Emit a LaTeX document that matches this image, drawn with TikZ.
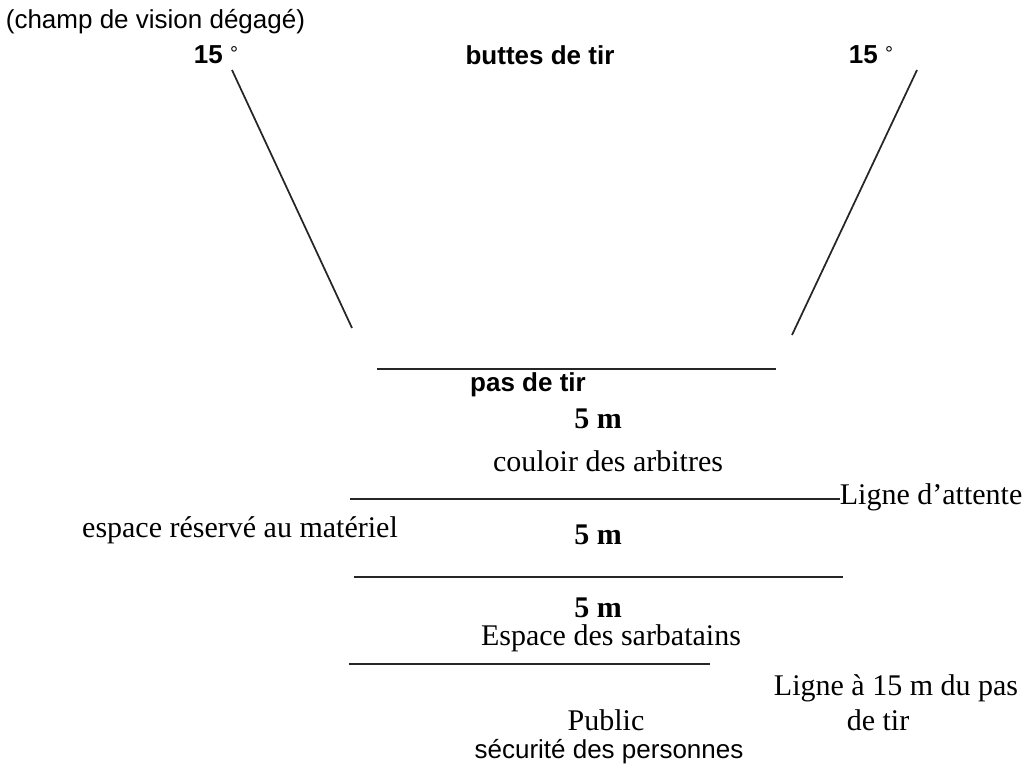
\documentclass[tikz,border=0pt]{standalone}
\usepackage{fontspec}
\setmainfont{Liberation Serif}
\setsansfont{Liberation Sans}
\begin{document}
\begin{tikzpicture}[x=0.75pt,y=-0.75pt,line width=1.3pt,
  sans/.style={font=\sffamily\fontsize{19.5}{22}\selectfont,inner sep=0pt},
  sansb/.style={font=\sffamily\bfseries\fontsize{19.5}{22}\selectfont,inner sep=0pt},
  serif/.style={font=\fontsize{22.5}{26}\selectfont,inner sep=0pt},
  serifb/.style={font=\bfseries\fontsize{22.5}{26}\selectfont,inner sep=0pt}]
\useasboundingbox (0,0) rectangle (1034,770);
% champ de vision
\draw[color=black!85] (232,70) -- (352,328);
\draw[color=black!85] (917,70) -- (792,335);
% lignes
\draw[color=black!85] (377,369) -- (776,369);
\draw[color=black!85] (350,499) -- (840,499);
\draw[color=black!85] (354,577) -- (843,577);
\draw[color=black!85] (349,664) -- (710,664);
%\draw (0,0) rectangle (1034,770);
\node (champ) at (5,22) [sans,right] {(champ de vision dégagé)};
\node (angleg) at (216,55) [sansb] {15 {\mdseries\fontsize{15}{16}\selectfont\raisebox{2.5pt}{°}}};
\node (buttes) at (540,55) [sansb] {buttes de tir};
\node (angled) at (871,55) [sansb] {15 {\mdseries\fontsize{15}{16}\selectfont\raisebox{2.5pt}{°}}};
\node (pas) at (528,385) [sansb] {pas de tir};
\node (dista) at (598,419) [serifb] {5 m};
\node (couloir) at (608,461) [serif] {couloir des arbitres};
\node (attente) at (839,497) [serif,right] {Ligne d’attente};
\node (materiel) at (240,530) [serif] {espace réservé au matériel};
\node (distb) at (598,535) [serifb] {5 m};
\node (distc) at (598,608) [serifb] {5 m};
\node (sarb) at (611,638) [serif] {Espace des sarbatains};
\node (ligne) at (896,688) [serif] {Ligne à 15 m du pas};
\node (detir) at (878,720) [serif] {de tir};
\node (public) at (606,720) [serif] {Public};
\node (secu) at (609,752) [sans] {sécurité des personnes};
\end{tikzpicture}
\end{document}
